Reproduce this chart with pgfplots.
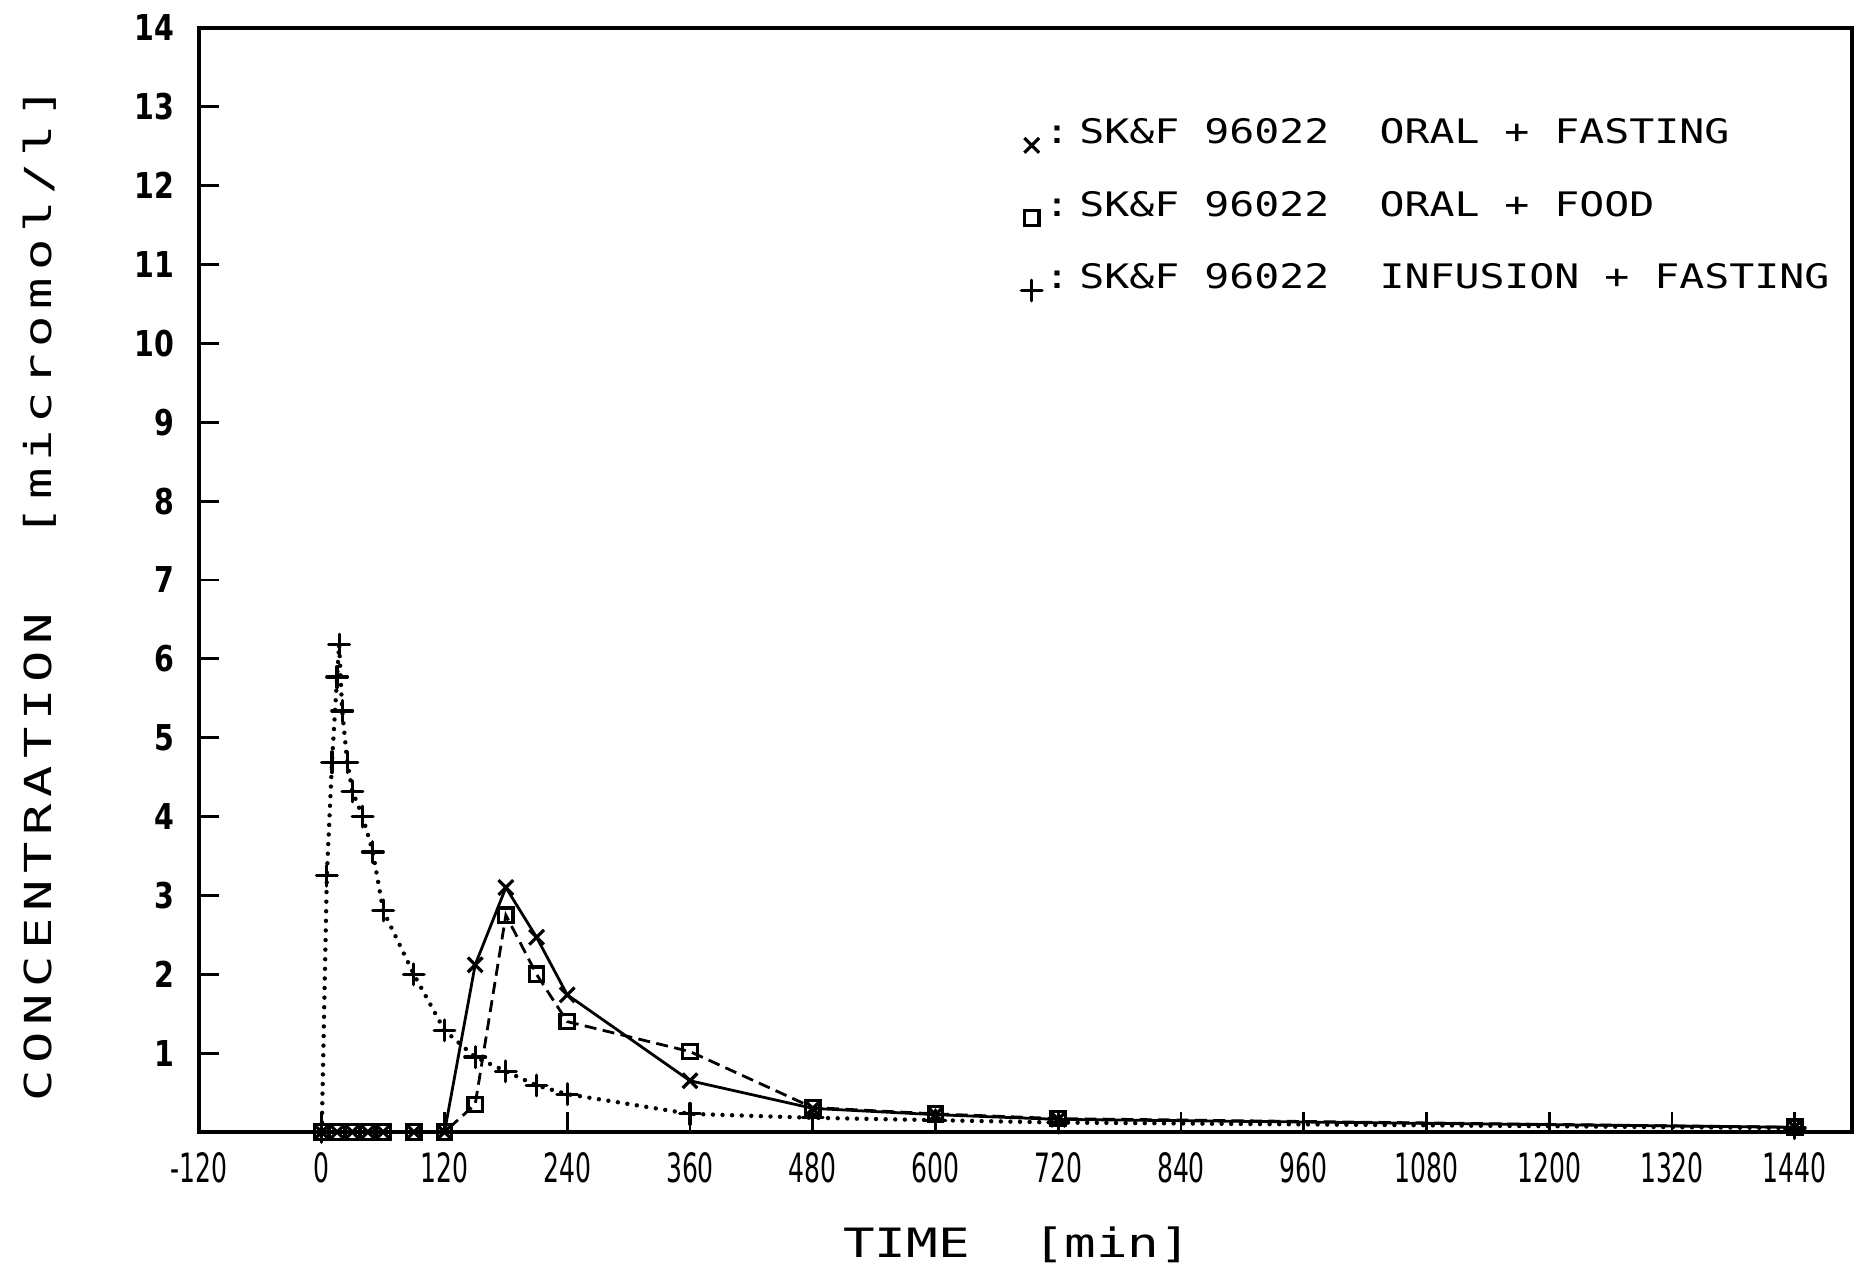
\documentclass[border=0pt]{standalone}
\usepackage{fontspec}
\usepackage{pgfplots}
\pgfplotsset{compat=1.18}
\newfontfamily\legfont[FakeStretch=1.23]{DejaVu Sans Mono}
\newfontfamily\ylabfont[FakeStretch=1.4,LetterSpace=18]{DejaVu Sans Mono}
\newfontfamily\xlabfont[FakeStretch=1.3]{DejaVu Sans Mono}
\newfontfamily\xtickfont[FakeStretch=0.62]{DejaVu Sans}
\newfontfamily\ytickfont[FakeStretch=0.8]{DejaVu Sans Bold}
\begin{document}
\begin{tikzpicture}
\path[use as bounding box] (-49.75pt,-34pt) rectangle (414.25pt,283pt);
\begin{axis}[
  scale only axis,
  width=413.25pt, height=276pt,
  xmin=-120, xmax=1496, ymin=0, ymax=14,
  xtick={-120,0,120,240,360,480,600,720,840,960,1080,1200,1320,1440},
  ytick={1,2,3,4,5,6,7,8,9,10,11,12,13,14},
  scaled ticks=false,
  /pgf/number format/1000 sep={},
  /pgf/number format/assume math mode=true,
  tick pos=left, tick align=inside,
  major tick length=5pt,
  tick style={black, line width=0.7pt},
  axis line style={black, line width=0.9pt},
  xticklabel style={font=\xtickfont\fontsize{10.1}{11}\selectfont, anchor=north, inner sep=0pt, yshift=-5pt},
  yticklabel style={font=\ytickfont\fontsize{8.9}{10}\selectfont, anchor=east, inner sep=0pt, xshift=-6pt},
  xlabel={TIME\ \ [min]},
  ylabel={CONCENTRATION\ \ [micromol/l]},
  xlabel style={font=\xlabfont\fontsize{10.1}{12}\selectfont, at={(axis description cs:0.495,-0.1024)}, anchor=center},
  ylabel style={font=\ylabfont\fontsize{9.3}{11}\selectfont, at={(axis description cs:-0.0962,0.487)}, anchor=center},
  legend cell align=left,
  legend image code/.code={\draw[#1] plot coordinates {(0.12cm,-0.1cm)};},
  legend style={draw=none, fill=none, at={(rel axis cs:0.497,0.921)}, anchor=north west,
    font=\legfont\fontsize{8.44}{10}\selectfont, row sep=9pt, inner sep=0pt,
    nodes={inner sep=0.6pt}},
]
\addplot[black, solid, line width=0.7pt, mark=x, mark size=2.6pt, mark options={solid, line width=0.8pt}]
  coordinates {(0,0) (15,0) (30,0) (45,0) (60,0) (90,0) (120,0) (150,2.12) (180,3.10) (210,2.47) (240,1.74) (360,0.65) (480,0.30) (600,0.22) (720,0.16) (1440,0.06)};
\addlegendentry{:\hspace{2.5pt}SK\&F 96022\ \ ORAL + FASTING}
\addplot[black, line width=0.7pt, dash pattern=on 3pt off 1.6pt, mark=square, mark size=1.8pt, mark options={solid, line width=0.8pt}]
  coordinates {(0,0) (15,0) (30,0) (45,0) (60,0) (90,0) (120,0) (150,0.35) (180,2.75) (210,2.00) (240,1.40) (360,1.02) (480,0.31) (600,0.23) (720,0.17) (1440,0.06)};
\addlegendentry{:\hspace{2.5pt}SK\&F 96022\ \ ORAL + FOOD}
\addplot[black, line width=1.1pt, line cap=round, dash pattern=on 0pt off 2.4pt, mark=+, mark size=2.6pt, mark options={solid, line width=0.8pt}]
  coordinates {(0,0) (5,3.25) (10,4.69) (15,5.77) (17,6.18) (20,5.34) (25,4.69) (30,4.32) (40,4.00) (50,3.55) (60,2.81) (90,2.00) (120,1.29) (150,0.95) (180,0.77) (210,0.59) (240,0.48) (360,0.23) (480,0.18) (600,0.15) (720,0.12) (1440,0.05)};
\addlegendentry{:\hspace{2.5pt}SK\&F 96022\ \ INFUSION + FASTING}
\end{axis}
\end{tikzpicture}
\end{document}
